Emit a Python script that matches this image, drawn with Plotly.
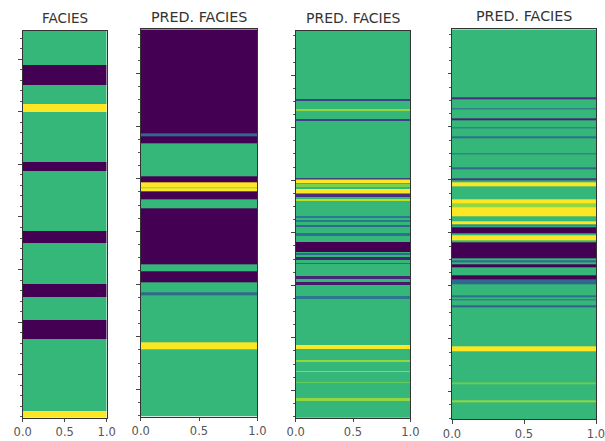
import plotly.graph_objects as go

# Depth window shared by all four tracks (m)
TOP, BASE = 2773.0, 3141.0
BACKGROUND = 2  # dominant facies code

# Facies code per interval: (top depth, base depth, code)
# 0 = purple, 1 = teal, 2 = green, 3 = yellow; fractional codes are thin mixed beds
facies_true = [
    (2805.4, 2824.5, 0), (2842.6, 2850.3, 3), (2897.4, 2906.2, 0),
    (2963.3, 2974.3, 0), (3013.3, 3025.8, 0), (3047.9, 3066.3, 0),
    (3135.0, 3141.0, 3),
]

pred_model_a = [
    (2773.0, 2872.0, 0), (2872.0, 2874.6, 1), (2874.6, 2881.6, 0),
    (2912.5, 2918.0, 0), (2918.0, 2922.8, 3), (2922.8, 2924.2, 2.5),
    (2924.2, 2926.8, 3), (2926.8, 2934.6, 0), (2943.4, 2996.4, 0),
    (3002.6, 3013.7, 0), (3023.2, 3025.4, 1), (3070.7, 3077.0, 3),
]

pred_model_b = [
    (2837.4, 2839.3, 0.6), (2847.5, 2849.1, 2.5), (2857.0, 2858.4, 0.6),
    (2912.6, 2913.8, 0.6), (2914.8, 2918.0, 3), (2918.9, 2921.2, 2.4),
    (2923.6, 2926.9, 3), (2928.1, 2930.7, 0.4), (2933.2, 2935.1, 2.7),
    (2949.1, 2950.5, 1.2), (2952.9, 2954.5, 1.2), (2957.6, 2959.3, 1.0),
    (2965.5, 2968.1, 1.1), (2973.5, 2983.6, 0), (2984.6, 2986.2, 1.0),
    (2988.4, 2990.9, 0.3), (2993.5, 2994.7, 1.0), (3006.2, 3008.7, 0.3),
    (3011.9, 3014.7, 0.2), (3025.2, 3028.3, 1.2), (3071.8, 3075.4, 3),
    (3086.1, 3087.7, 2.5), (3096.3, 3097.8, 2.5), (3106.8, 3108.3, 2.3),
    (3122.6, 3124.8, 2.5),
]

pred_model_c = [
    (2836.9, 2839.1, 0.4), (2847.3, 2848.9, 1.0), (2856.7, 2858.9, 0.3),
    (2865.2, 2866.8, 1.1), (2874.0, 2875.6, 1.1), (2889.7, 2891.3, 1.1),
    (2903.6, 2905.1, 1.0), (2913.8, 2915.2, 0.5), (2917.6, 2920.9, 3),
    (2933.1, 2937.4, 3), (2937.4, 2940.7, 2.5), (2941.1, 2949.5, 3),
    (2953.9, 2957.0, 3), (2957.2, 2959.3, 1.5), (2959.8, 2965.5, 0),
    (2967.8, 2972.3, 3), (2974.4, 2989.5, 0), (2990.7, 2993.2, 1.0),
    (2994.7, 2997.3, 0), (3005.3, 3008.6, 0), (3009.1, 3013.3, 1.0),
    (3024.2, 3025.9, 1.1), (3027.5, 3029.1, 1.1), (3033.4, 3035.2, 0.9),
    (3072.1, 3076.7, 3), (3106.5, 3107.9, 2.3), (3122.8, 3125.0, 2.5),
]

track_titles = ["FACIES", "PRED. FACIES", "PRED. FACIES", "PRED. FACIES"]
x_tick_vals = [0, 0.5, 1.0]
x_tick_text = ["0.0", "0.5", "1.0"]

W, H = 605, 441
# Track frames in pixels: left, right, top, bottom
frames = [
    (22.7, 106.7, 31.0, 417.7),
    (140.7, 257.3, 29.3, 416.7),
    (295.7, 410.3, 31.0, 417.7),
    (452.0, 596.0, 29.3, 419.3),
]
title_y = [18.3, 16.7, 18.3, 15.5]
title_size = [13.5, 14.3, 14, 14.3]
# major tick origin / minor step for each track's depth axis
y_tick0 = [2800, 2815, 2815, 2815]
y_minor = [10, 12.5, 12.5, 12.5]


def column(intervals, background=BACKGROUND):
    edges, z = [TOP], []
    cur = TOP
    for top, base, code in intervals:
        if top > cur + 1e-6:
            z.append([background])
            edges.append(top)
        z.append([code])
        edges.append(base)
        cur = base
    if cur < BASE - 1e-6:
        z.append([background])
        edges.append(BASE)
    return edges, z


tracks = [facies_true, pred_model_a, pred_model_b, pred_model_c]

fig = go.Figure()
font = "DejaVu Sans, Arial, sans-serif"
layout = dict(
    width=W, height=H,
    margin=dict(l=0, r=0, t=0, b=0, autoexpand=False),
    paper_bgcolor="white", plot_bgcolor="white",
    showlegend=False,
    font=dict(family=font, color="#444"),
)
annotations = []

for i, (intervals, (l, r, t, b)) in enumerate(zip(tracks, frames)):
    n = "" if i == 0 else str(i + 1)
    edges, z = column(intervals)
    fig.add_trace(go.Heatmap(
        x=[0, 1], y=edges, z=z,
        colorscale="Viridis", zmin=0, zmax=3, showscale=False,
        xaxis="x" + n, yaxis="y" + n, hoverinfo="skip",
    ))
    layout["xaxis" + n] = dict(
        domain=[l / W, r / W], anchor="y" + n, range=[0, 1],
        tickvals=x_tick_vals, ticktext=x_tick_text,
        ticks="outside", ticklen=3.5, tickwidth=1, tickcolor="#444",
        tickfont=dict(size=11.5, color="#555"), ticklabeloverflow="allow",
        showline=True, mirror=True, linecolor="#333", linewidth=1,
        showgrid=False, zeroline=False, fixedrange=True, automargin=False,
    )
    layout["yaxis" + n] = dict(
        domain=[1 - b / H, 1 - t / H], anchor="x" + n,
        range=[BASE, TOP], showticklabels=False,
        tick0=y_tick0[i], dtick=50,
        ticks="outside", ticklen=3.5, tickwidth=1, tickcolor="#444",
        minor=dict(tick0=y_tick0[i], dtick=y_minor[i], ticks="outside",
                   ticklen=2, tickwidth=0.8, tickcolor="#555", showgrid=False),
        showline=True, mirror=True, linecolor="#333", linewidth=1,
        showgrid=False, zeroline=False, fixedrange=True, automargin=False,
    )
    annotations.append(dict(
        text=track_titles[i], xref="paper", yref="paper",
        x=(l + r) / 2 / W, y=1 - title_y[i] / H,
        xanchor="center", yanchor="middle", showarrow=False,
        font=dict(size=title_size[i], color="#333", family=font),
    ))

layout["annotations"] = annotations
fig.update_layout(**layout)
fig.write_html("out.html")
